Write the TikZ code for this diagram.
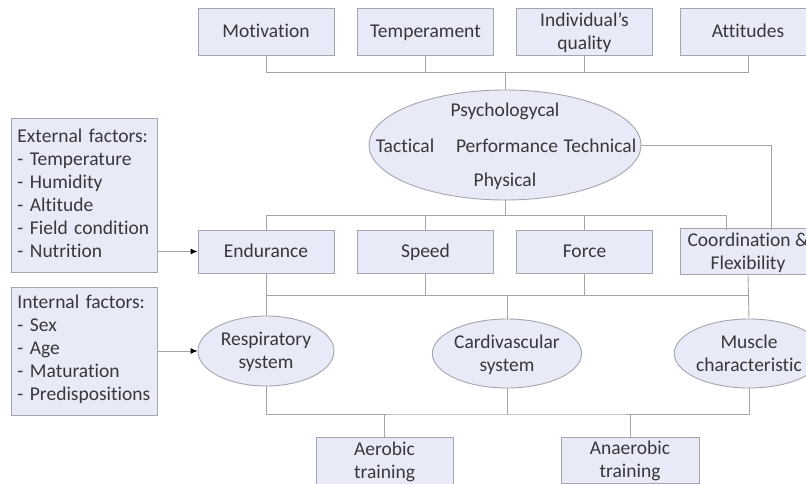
\documentclass[tikz,border=0pt]{standalone}
\usepackage{fontspec}
\setmainfont[Ligatures={NoCommon}]{Carlito}
\usetikzlibrary{shapes.geometric,arrows.meta}
\definecolor{fillc}{RGB}{233,234,247}
\definecolor{bordc}{RGB}{165,165,175}
\definecolor{linec}{RGB}{165,165,165}
\definecolor{txtc}{RGB}{55,55,60}
\newcommand{\st}{\rule[-5.3pt]{0pt}{23pt}}
\begin{document}
\begin{tikzpicture}[x=1pt,y=-1pt,
  every node/.style={font=\fontsize{19.5}{23}\selectfont, text=txtc},
  box/.style={draw=bordc, fill=fillc, line width=0.9pt, minimum width=136pt, minimum height=46pt, align=center, inner sep=0pt},
  ell/.style={ellipse, draw=bordc, fill=fillc, line width=0.9pt, align=center, inner sep=0pt},
  lbox/.style={draw=bordc, fill=fillc, line width=0.9pt, minimum width=146pt, align=left, anchor=north west, inner sep=0pt, text width=140pt},
  conn/.style={draw=linec, line width=0.9pt},
  arr/.style={conn, -{Latex[length=7pt,width=6pt]}, arrows={[color=black]}}]
\useasboundingbox (0,0) rectangle (806,484);
\fill[white] (0,0) rectangle (806,484);
% top boxes
\node[box, minimum height=47pt] (mot) at (266,31.5) {\st Motivation};
\node[box, minimum height=47pt] (tem) at (425.5,31.5) {\st Temperament};
\node[box, minimum height=47pt] (ind) at (584.5,31.5) {\st Individual's\\\st quality};
\node[box, minimum height=47pt] (att) at (748,31.5) {\st Attitudes};
% performance ellipse
\node[ell, minimum width=272pt, minimum height=110pt] (perf) at (505,145) {};
\node (psy) at (505,110) {\st Psychologycal};
\node (tac) at (405,146) {\st Tactical};
\node (prf) at (507,146) {\st Performance};
\node (tec) at (600,146) {\st Technical};
\node (phy) at (505,180) {\st Physical};
% middle boxes
\node[box, minimum height=43pt] (end) at (266,251.5) {\st Endurance};
\node[box, minimum height=43pt] (spd) at (425.5,251.5) {\st Speed};
\node[box, minimum height=43pt] (frc) at (584.5,251.5) {\st Force};
\node[box, minimum height=43pt] (coo) at (748,251.5) {\st Coordination \&\\\st Flexibility};
% factor boxes
\node[lbox, minimum height=154pt] (ext) at (11,118) {\hspace*{3pt}\parbox[t]{137pt}{\vspace*{-4pt}External factors:\\- Temperature\\- Humidity\\- Altitude\\- Field condition\\- Nutrition}};
\node[lbox, minimum height=128pt] (int) at (11,287) {\hspace*{3pt}\parbox[t]{137pt}{\vspace*{-4pt}Internal factors:\\- Sex\\- Age\\- Maturation\\- Predispositions}};
% system ellipses
\node[ell, minimum width=136pt, minimum height=70pt] (resp) at (266,351) {\st Respiratory\\\st system};
\node[ell, minimum width=138pt, minimum height=69pt] (card) at (507,353.5) {\st Cardivascular\\\st system};
\node[ell, minimum width=138pt, minimum height=69pt] (musc) at (749,353.5) {\st Muscle\\\st characteristic};
% training boxes
\node[box, minimum width=137pt, minimum height=47pt] (aer) at (384.5,460.5) {\st Aerobic\\\st training};
\node[box, minimum width=138pt, minimum height=46pt] (ane) at (630,460) {\st Anaerobic\\\st training};
% junctions
\coordinate (jtop) at (505,72);
\coordinate (jmid) at (505,215);
\coordinate (jlow) at (505,295);
\coordinate (jbot) at (505,414);
\coordinate (cooin) at (771,230);
\coordinate (cooup) at (726,230);
% connectors top
\draw[conn] (mot.south) |- (jtop) -- (perf.north);
\draw[conn] (att.south) |- (jtop);
\draw[conn] (tem.south) -- (tem.south |- jtop);
\draw[conn] (ind.south) -- (ind.south |- jtop);
% performance to coordination
\draw[conn] (perf.east) -| (cooin);
% middle
\draw[conn] (perf.south) -- (jmid);
\draw[conn] (end.north) |- (jmid);
\draw[conn] (cooup) |- (jmid);
\draw[conn] (spd.north) -- (spd.north |- jmid);
\draw[conn] (frc.north) -- (frc.north |- jmid);
% lower
\draw[conn] (end.south) -- (resp.north);
\draw[conn] (coo.south) -- (musc.north);
\draw[conn] (end.south |- jlow) -- (coo.south |- jlow);
\draw[conn] (spd.south) -- (spd.south |- jlow);
\draw[conn] (frc.south) -- (frc.south |- jlow);
\draw[conn] (card.north) -- (card.north |- jlow);
% bottom
\draw[conn] (resp.south) |- (jbot) -| (musc.south);
\draw[conn] (card.south) -- (card.south |- jbot);
\draw[conn] (aer.north) -- (aer.north |- jbot);
\draw[conn] (ane.north) -- (ane.north |- jbot);
% arrows
\draw[arr] (ext.east |- end.west) -- (end.west);
\draw[arr] (int.east |- resp.west) -- (resp.west);
\end{tikzpicture}
\end{document}
